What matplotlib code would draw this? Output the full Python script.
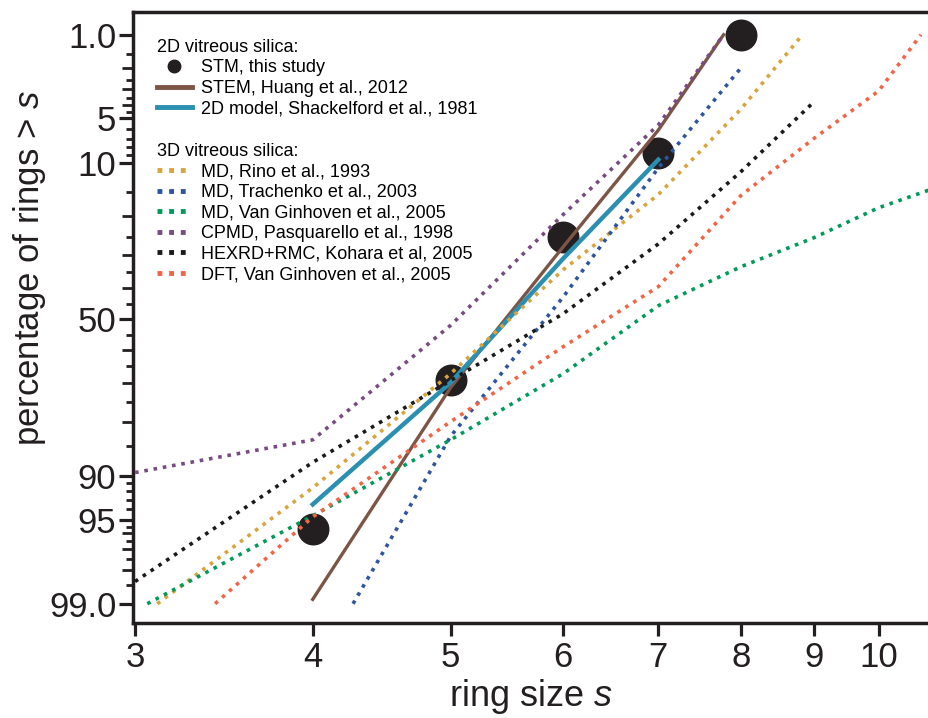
import matplotlib
matplotlib.use("Agg")
import matplotlib.pyplot as plt
import numpy as np
from matplotlib.lines import Line2D
from matplotlib.ticker import FixedLocator, FixedFormatter, NullLocator
from statistics import NormalDist

plt.rcParams['font.family'] = ['Liberation Sans', 'DejaVu Sans']
plt.rcParams['mathtext.fontset'] = 'custom'
plt.rcParams['mathtext.it'] = 'Liberation Sans:italic'
plt.rcParams['mathtext.rm'] = 'Liberation Sans'

# ring size s vs percentage of rings larger than s
stm_s = [4, 5, 6, 7, 8]
stm_pct = [95.7, 68.9, 25.0, 8.7, 1.0]

huang_s = [4, 5, 6, 7, 7.78]
huang_pct = [98.9, 71.2, 27.7, 6.1, 1.0]

shack_s = [4, 5, 6, 7]
shack_pct = [93.5, 69.8, 31.0, 9.6]

rino_s = [3.11, 4, 5, 6, 7, 8, 8.84]
rino_pct = [99.0, 91.6, 67.2, 34.3, 15.4, 4.3, 1.0]

trach_s = [4.27, 5, 6, 7, 8]
trach_pct = [99.0, 83.1, 42.8, 10.8, 2.0]

vgmd_s = [3.06, 4, 5, 6, 7, 8, 9, 10, 11]
vgmd_pct = [99.0, 94.6, 83.8, 67.2, 45.6, 33.4, 25.3, 18.1, 14.0]

pasq_s = [3, 4, 5, 6, 7, 7.78]
pasq_pct = [89.5, 83.8, 52.0, 19.6, 5.6, 1.0]

kohara_s = [3, 4, 5, 6, 7, 8, 9]
kohara_pct = [98.4, 87.9, 69.2, 48.2, 26.9, 11.4, 3.8]

dft_s = [3.415, 4, 5, 6, 7, 8, 9, 10, 10.71]
dft_pct = [99.0, 94.7, 79.9, 58.9, 39.5, 15.6, 7.0, 3.1, 1.0]

x_ticks = [3, 4, 5, 6, 7, 8, 9, 10]
y_ticks = [1, 5, 10, 50, 90, 95, 99]
y_labels = ["1.0", "5", "10", "50", "90", "95", "99.0"]
y_mid = [2, 3, 4, 20, 30, 40, 60, 70, 80, 96, 97, 98]
y_short = [1.5, 2.5, 3.5, 4.5, 6, 7, 8, 9, 15, 25, 35, 45,
           55, 65, 75, 85, 91, 92, 93, 94, 95.5, 96.5, 97.5, 98.5]

_nd = NormalDist()
_ppf = np.vectorize(_nd.inv_cdf, otypes=[float])
_cdf = np.vectorize(_nd.cdf, otypes=[float])


def pct_to_z(p):
    p = np.clip(np.asarray(p, dtype=float) / 100.0, 1e-9, 1 - 1e-9)
    return _ppf(p)


def z_to_pct(z):
    return 100.0 * _cdf(np.asarray(z, dtype=float))


dark = "#231f20"
dots = dict(lw=2.6, linestyle=(0, (1, 1.6)), dash_capstyle="butt")

fig = plt.figure(figsize=(9.29, 7.18), dpi=100)
ax = fig.add_axes([133 / 929, 95 / 718, 796 / 929, 611 / 718])

ax.plot(stm_s, stm_pct, "o", color=dark, ms=22, zorder=2)
ax.plot(huang_s, huang_pct, color="#7d5546", lw=2.4, zorder=3)
ax.plot(shack_s, shack_pct, color="#2a8fb0", lw=3.2, zorder=3)
ax.plot(rino_s, rino_pct, color="#d8a43c", zorder=4, **dots)
ax.plot(trach_s, trach_pct, color="#2d55a0", zorder=4, **dots)
ax.plot(vgmd_s, vgmd_pct, color="#009a5a", zorder=4, **dots)
ax.plot(pasq_s, pasq_pct, color="#784b82", zorder=4, **dots)
ax.plot(kohara_s, kohara_pct, color="#1a1a1a", zorder=4, **dots)
ax.plot(dft_s, dft_pct, color="#f26446", zorder=4, **dots)

ax.set_xscale("log")
ax.set_xlim(2.99, 10.85)
ax.xaxis.set_major_locator(FixedLocator(x_ticks))
ax.xaxis.set_major_formatter(FixedFormatter([str(t) for t in x_ticks]))
ax.xaxis.set_minor_locator(NullLocator())

ax.set_yscale("function", functions=(pct_to_z, z_to_pct))
ax.set_ylim(99.35, 0.6)
ax.yaxis.set_major_locator(FixedLocator(y_ticks))
ax.yaxis.set_major_formatter(FixedFormatter(y_labels))
ax.yaxis.set_minor_locator(FixedLocator(y_short))

for side in ["left", "top", "bottom"]:
    ax.spines[side].set_linewidth(2.5)
    ax.spines[side].set_color(dark)
ax.spines["right"].set_visible(False)

ax.tick_params(axis="both", which="major", direction="out", width=2.3,
               color=dark, labelsize=25, labelcolor=dark)
ax.tick_params(axis="y", which="major", length=10, pad=2)
ax.tick_params(axis="x", which="major", length=9, pad=4)
ax.tick_params(axis="y", which="minor", direction="out", length=5,
               width=2.0, color=dark)

# middle-length ticks on a twin axis
ax2 = ax.twinx()
ax2.set_yscale("function", functions=(pct_to_z, z_to_pct))
ax2.set_ylim(99.35, 0.6)
ax2.yaxis.tick_left()
ax2.yaxis.set_major_locator(FixedLocator(y_mid))
ax2.yaxis.set_major_formatter(FixedFormatter([""] * len(y_mid)))
ax2.yaxis.set_minor_locator(NullLocator())
ax2.tick_params(axis="y", which="major", direction="out", length=8,
                width=2.0, color=dark)
for sp in ax2.spines.values():
    sp.set_visible(False)

ax.set_xlabel("ring size $s$", fontsize=26, color=dark, labelpad=2)
ax.set_ylabel("percentage of rings > $s$", fontsize=25, color=dark)
ax.yaxis.set_label_coords(-0.107, 0.581)

h2d = [Line2D([], [], marker="o", color=dark, ls="none", ms=9),
       Line2D([], [], color="#7d5546", lw=3.5),
       Line2D([], [], color="#2a8fb0", lw=3.5)]
l2d = ["STM, this study", "STEM, Huang et al., 2012",
       "2D model, Shackelford et al., 1981"]
leg_kw = dict(loc="upper left", frameon=False, fontsize=13, title_fontsize=13,
              alignment="left", borderpad=0, borderaxespad=0,
              handlelength=1.95, handletextpad=0.5, labelspacing=0.2)
leg1 = ax.legend(h2d, l2d, title="2D vitreous silica:",
                 bbox_to_anchor=(0.030, 0.956), **leg_kw)
ax.add_artist(leg1)

c3d = ["#d8a43c", "#2d55a0", "#009a5a", "#784b82", "#1a1a1a", "#f26446"]
h3d = [Line2D([], [], color=c, lw=3.5, linestyle=(0, (1, 1.4)),
              dash_capstyle="butt") for c in c3d]
l3d = ["MD, Rino et al., 1993", "MD, Trachenko et al., 2003",
       "MD, Van Ginhoven et al., 2005", "CPMD, Pasquarello et al., 1998",
       "HEXRD+RMC, Kohara et al, 2005", "DFT, Van Ginhoven et al., 2005"]
ax.legend(h3d, l3d, title="3D vitreous silica:",
          bbox_to_anchor=(0.030, 0.786), **leg_kw)

fig.savefig("out.png", dpi=100)
